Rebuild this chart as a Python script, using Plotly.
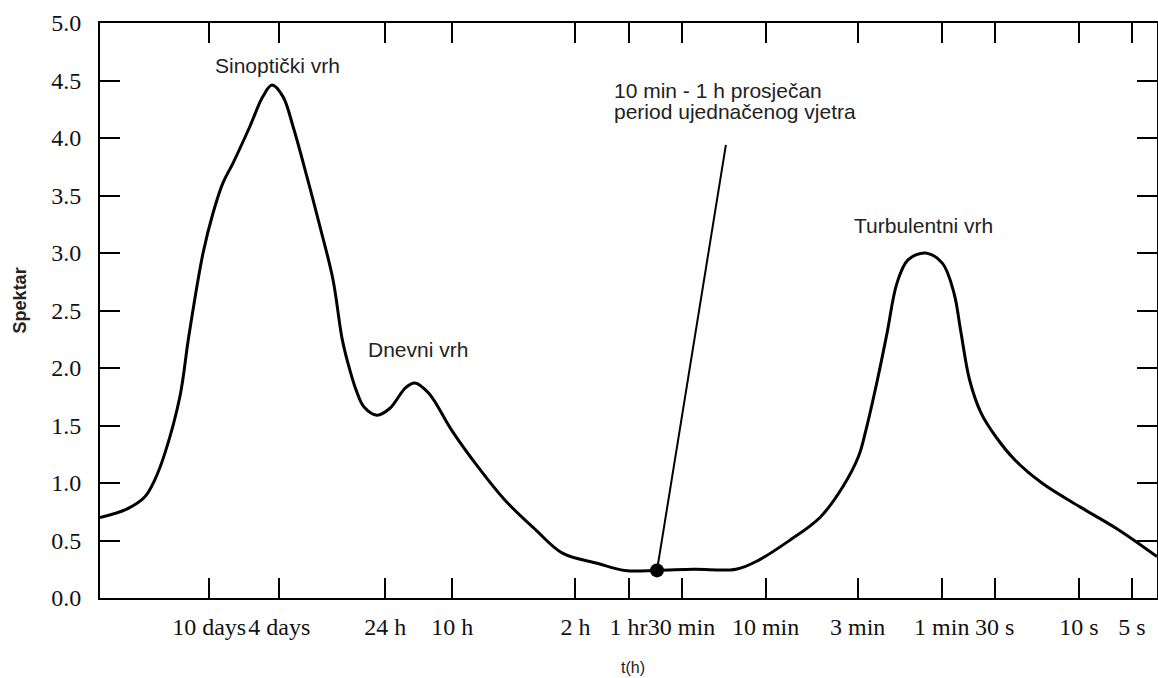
import plotly.graph_objects as go

# ---- data (period in hours, spectrum value) ----
period_h = [1000, 711, 556, 488, 428, 352, 313, 260, 228, 200.5, 176, 141, 119, 105.6,
            91.5, 80.2, 66.8, 56.4, 47.6, 42.3, 39.1, 35.2, 31.7, 26.8, 22.6, 18.4,
            16.3, 13.6, 10.1, 7.15, 5.02, 3.35, 2.37, 1.49, 1.05, 0.689, 0.425, 0.245,
            0.182, 0.122, 0.0819, 0.0606, 0.0495, 0.0449, 0.0386, 0.0341, 0.0299,
            0.0259, 0.0206, 0.0165, 0.0142, 0.0130, 0.0116, 0.00998, 0.0082, 0.0064,
            0.0045, 0.00272, 0.00164, 0.001]
spectrum = [0.70, 0.77, 0.88, 1.03, 1.26, 1.75, 2.28, 3.00, 3.35, 3.61, 3.78, 4.10, 4.36, 4.46,
            4.36, 4.10, 3.66, 3.23, 2.77, 2.26, 2.04, 1.81, 1.66, 1.59, 1.65, 1.83,
            1.87, 1.78, 1.46, 1.14, 0.85, 0.59, 0.39, 0.30, 0.24, 0.24, 0.25, 0.25,
            0.33, 0.50, 0.70, 0.97, 1.23, 1.46, 1.90, 2.30, 2.74,
            2.94, 3.00, 2.91, 2.65, 2.32, 1.90, 1.61, 1.40, 1.20,
            1.00, 0.79, 0.59, 0.36]

avg_period_h = [0.689]
avg_value = [0.24]
leader_period_h = [0.689, 0.280]
leader_value = [0.24, 3.94]

tick_periods_h = [240, 96, 24, 10, 2, 1, 0.5, 1 / 6, 0.05, 1 / 60, 1 / 120, 1 / 360, 1 / 720]
tick_labels = ["10 days", "4 days", "24 h", "10 h", "2 h", "1 hr", "30 min",
               "10 min", "3 min", "1 min", "30 s", "10 s", "5 s"]
y_ticks = [0.0, 0.5, 1.0, 1.5, 2.0, 2.5, 3.0, 3.5, 4.0, 4.5, 5.0]
y_tick_labels = ["0.0", "0.5", "1.0", "1.5", "2.0", "2.5", "3.0", "3.5", "4.0", "4.5", "5.0"]

fig = go.Figure()
fig.add_trace(go.Scatter(x=period_h, y=spectrum, mode="lines",
                         line=dict(color="black", width=3, shape="spline", smoothing=1.0),
                         hoverinfo="skip", showlegend=False))
fig.add_trace(go.Scatter(x=leader_period_h, y=leader_value, mode="lines",
                         line=dict(color="black", width=2), hoverinfo="skip", showlegend=False))
fig.add_trace(go.Scatter(x=avg_period_h, y=avg_value, mode="markers",
                         marker=dict(color="black", size=14), hoverinfo="skip", showlegend=False))

axis_common = dict(showgrid=False, zeroline=False, showline=True, linecolor="black",
                   linewidth=2, mirror="ticks", ticks="inside", ticklen=20, tickwidth=2,
                   tickcolor="black", automargin=False, tickangle=0,
                   tickfont=dict(family="Liberation Serif, Times New Roman, serif", size=24,
                                 color="#111111"))

fig.update_xaxes(type="log", range=[3, -3], tickmode="array",
                 tickvals=tick_periods_h, ticktext=tick_labels, ticklabelstandoff=6,
                 **axis_common)
fig.update_yaxes(range=[0, 5], tickmode="array", tickvals=y_ticks, ticktext=y_tick_labels,
                 ticklabelstandoff=12, **axis_common)

sans = dict(family="Liberation Sans, Arial, sans-serif", size=21, color="#222222")
annotations = [
    dict(text="Sinoptički vrh", x=1.992, y=4.63, xanchor="center"),
    dict(text="Dnevni vrh", x=1.195, y=2.165, xanchor="center"),
    dict(text="Turbulentni vrh", x=-1.675, y=3.243, xanchor="center"),
    dict(text="10 min - 1 h prosječan", x=0.094, y=4.413, xanchor="left"),
    dict(text="period ujednačenog vjetra", x=0.094, y=4.230, xanchor="left"),
]
for a in annotations:
    fig.add_annotation(xref="x", yref="y", showarrow=False, yanchor="middle",
                       font=sans, **a)

fig.add_annotation(text="Spektar", xref="paper", yref="paper", x=-0.076, y=0.517,
                   xanchor="center", yanchor="middle", textangle=-90, showarrow=False,
                   font=dict(family="Liberation Sans, Arial, sans-serif", size=18,
                             color="#222222", weight="bold"))
fig.add_annotation(text="t(h)", xref="paper", yref="paper", x=0.504, y=-0.12,
                   xanchor="center", yanchor="middle", showarrow=False,
                   font=dict(family="Liberation Sans, Arial, sans-serif", size=16,
                             color="#222222"))

fig.update_layout(width=1158, height=678, plot_bgcolor="white", paper_bgcolor="white",
                  margin=dict(l=100, r=1, t=23, b=80, autoexpand=False))

fig.write_html("out.html", config={"displayModeBar": False},
               post_script="document.body.style.margin='0';document.body.style.overflow='hidden';")
